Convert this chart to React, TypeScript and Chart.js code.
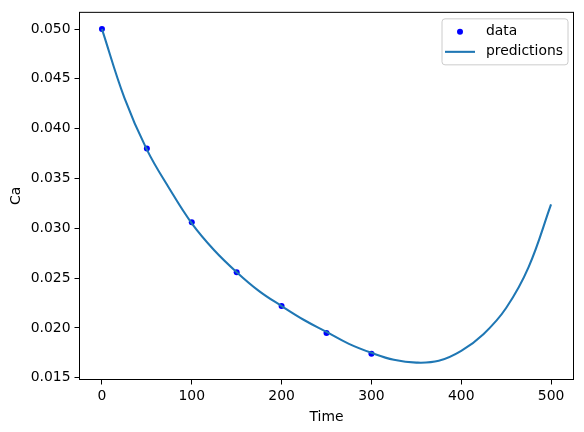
import React, { useEffect, useRef } from 'react';
import { Chart, registerables } from 'chart.js';

Chart.register(...registerables);

// Measured data points
const dataTimes = [0, 50, 100, 150, 200, 250, 300];
const dataCa = [0.05, 0.038, 0.0306, 0.0256, 0.0222, 0.0195, 0.0174];

// Prediction curve
const predTimes = [0, 25, 50, 75, 100, 125, 150, 175, 200, 225, 250, 275, 300, 325, 350, 375, 400, 425, 450, 475, 500];
const predCa = [0.05, 0.0431, 0.0379, 0.034, 0.0305, 0.0278, 0.0256, 0.0237, 0.0222, 0.0208, 0.0196, 0.0184, 0.0175, 0.0168, 0.01652, 0.0167, 0.0177, 0.0194, 0.022, 0.0261, 0.0324];

const xTicks = [0, 100, 200, 300, 400, 500];
const yTicks = [0.015, 0.02, 0.025, 0.03, 0.035, 0.04, 0.045, 0.05];

const FONT = { family: 'DejaVu Sans', size: 13.9 };

export default function App() {
  const ref = useRef<HTMLCanvasElement>(null);
  useEffect(() => {
    document.body.style.margin = '0';
    const canvas = ref.current!;
    const framePlugin = {
      id: 'frameLegend',
      afterDraw(chart: any) {
        const ctx = chart.ctx;
        const a = chart.chartArea;
        ctx.save();
        ctx.strokeStyle = '#000';
        ctx.lineWidth = 1;
        ctx.strokeRect(a.left, a.top, a.right - a.left, a.bottom - a.top);
        // legend
        const w = 126, h = 46;
        const bx = a.right - 5.5 - w;
        const by = a.top + 6.5;
        ctx.beginPath();
        (ctx as any).roundRect(bx, by, w, h, 3);
        ctx.fillStyle = 'rgba(255,255,255,0.8)';
        ctx.fill();
        ctx.strokeStyle = '#cccccc';
        ctx.stroke();
        ctx.beginPath();
        ctx.arc(bx + 18, by + 13, 3, 0, Math.PI * 2);
        ctx.fillStyle = '#0000ff';
        ctx.fill();
        ctx.beginPath();
        ctx.moveTo(bx + 3, by + 33);
        ctx.lineTo(bx + 33, by + 33);
        ctx.strokeStyle = '#1f77b4';
        ctx.lineWidth = 2.08;
        ctx.stroke();
        ctx.fillStyle = '#000';
        ctx.font = `${FONT.size}px "DejaVu Sans"`;
        ctx.textBaseline = 'middle';
        ctx.textAlign = 'left';
        ctx.fillText('data', bx + 44, by + 13);
        ctx.fillText('predictions', bx + 44, by + 33);
        ctx.restore();
      },
    };
    const chart = new Chart(canvas, {
      type: 'scatter',
      data: {
        datasets: [
          {
            label: 'data',
            data: dataTimes.map((t, i) => ({ x: t, y: dataCa[i] })),
            backgroundColor: '#0000ff',
            borderColor: '#0000ff',
            pointRadius: 3,
            borderWidth: 0,
            order: 1,
          } as any,
          {
            label: 'predictions',
            type: 'line',
            data: predTimes.map((t, i) => ({ x: t, y: predCa[i] })),
            borderColor: '#1f77b4',
            backgroundColor: '#1f77b4',
            borderWidth: 2.08,
            pointRadius: 0,
            tension: 0.4,
            fill: false,
            order: 0,
          } as any,
        ],
      },
      options: {
        animation: false,
        responsive: false,
        events: [],
        layout: { padding: { top: 9.5, right: 10.5, left: 0, bottom: 0 } },
        plugins: { legend: { display: false }, tooltip: { enabled: false } },
        scales: {
          x: {
            type: 'linear',
            min: -25,
            max: 525,
            afterBuildTicks: (s: any) => { s.ticks = xTicks.map((v) => ({ value: v })); },
            afterFit: (s: any) => { s.height = 52.5; },
            ticks: { font: FONT, color: '#000', padding: 4, maxRotation: 0, autoSkip: false, callback: (v: any) => String(v) },
            grid: { drawOnChartArea: false, drawTicks: true, tickLength: 5, tickColor: '#000' },
            border: { display: true, color: '#000', width: 1 },
            title: { display: true, text: 'Time', font: FONT, color: '#000', padding: { top: 2, bottom: 6 } },
          },
          y: {
            type: 'linear',
            min: 0.014825,
            max: 0.05168,
            afterBuildTicks: (s: any) => { s.ticks = yTicks.map((v) => ({ value: v })); },
            afterFit: (s: any) => { s.width = 79.5; },
            ticks: { font: FONT, color: '#000', padding: 4, autoSkip: false, callback: (v: any) => Number(v).toFixed(3) },
            grid: { drawOnChartArea: false, drawTicks: true, tickLength: 5, tickColor: '#000' },
            border: { display: true, color: '#000', width: 1 },
            title: { display: true, text: 'Ca', font: FONT, color: '#000', padding: { top: 8, bottom: 4 } },
          },
        },
      },
      plugins: [framePlugin],
    } as any);
    return () => chart.destroy();
  }, []);
  return (
    <div style={{ width: 584, height: 432 }}>
      <canvas ref={ref} width={584} height={432} />
    </div>
  );
}
